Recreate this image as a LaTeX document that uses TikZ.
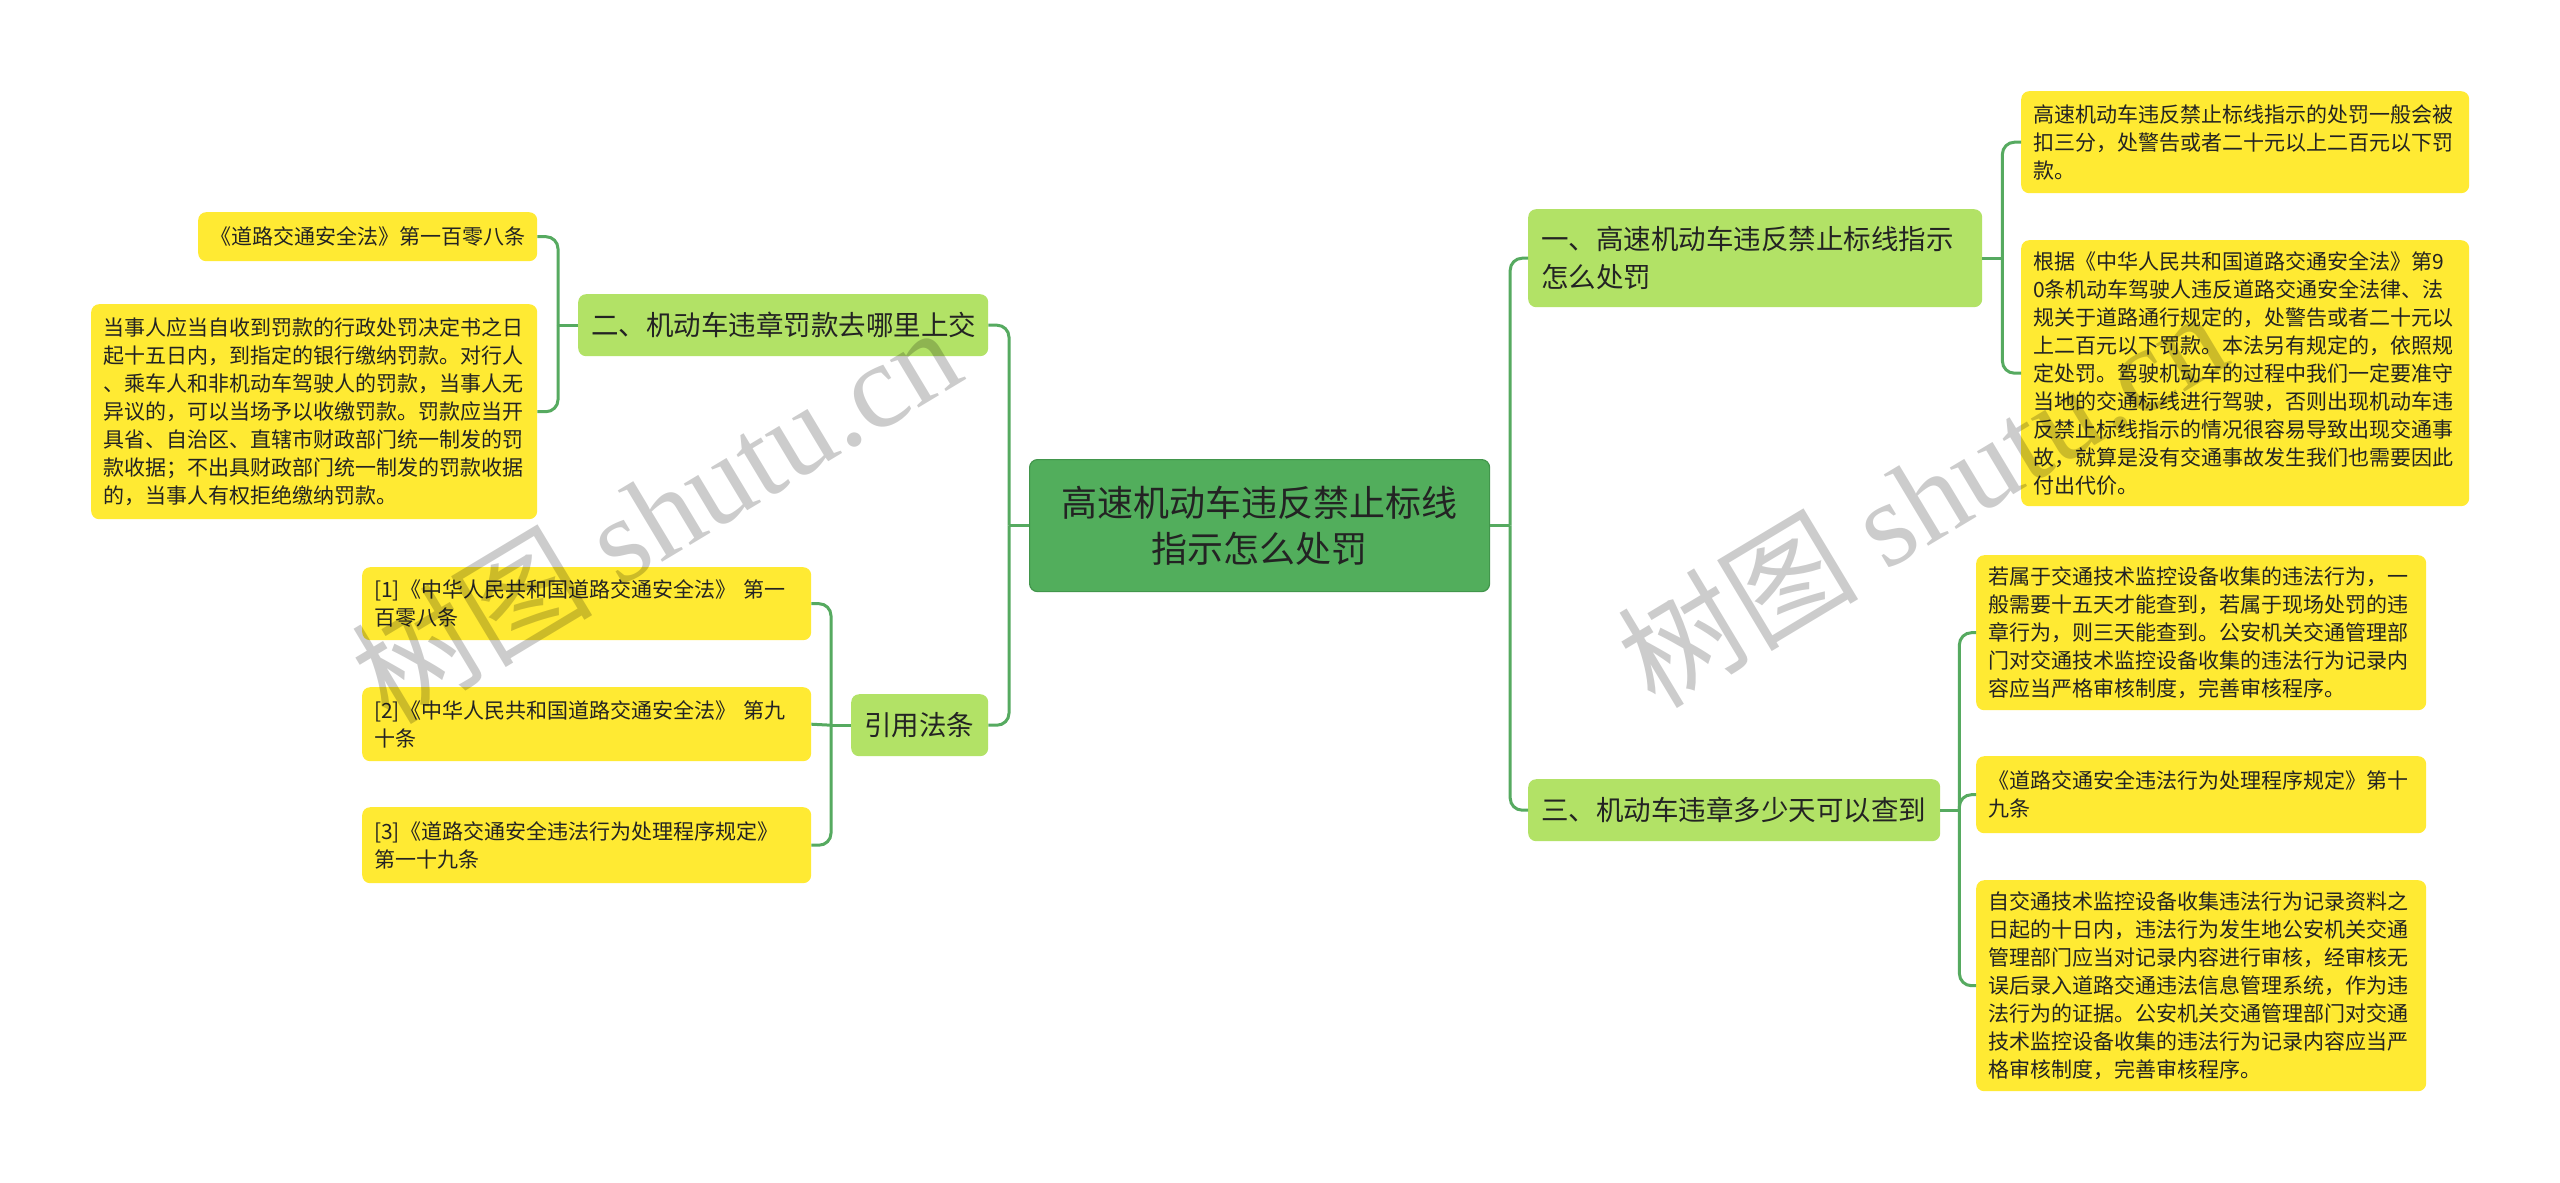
\documentclass[tikz,border=0pt]{standalone}
\usepackage{fontspec}
\setmainfont{Noto Sans CJK SC}
\newfontfamily\cjkfont{Noto Sans CJK SC}
\newfontfamily\wmlatin{Liberation Serif}
\definecolor{rootfill}{RGB}{82,174,92}
\definecolor{rootline}{RGB}{66,150,76}
\definecolor{branchfill}{RGB}{178,226,102}
\definecolor{leaffill}{RGB}{255,234,51}
\definecolor{conncol}{RGB}{86,170,96}
\definecolor{txt}{RGB}{35,35,35}
\tikzset{
  box/.style={rectangle, rounded corners=8pt, anchor=north west, inner ysep=3pt, text=txt},
  rootbox/.style={box, fill=rootfill, draw=rootline, line width=1.2pt, align=center,
    font=\fontsize{36}{46}\selectfont},
  branchbox/.style={box, fill=branchfill, align=left, inner xsep=13pt,
    font=\fontsize{27.5}{38}\selectfont},
  leafbox/.style={box, fill=leaffill, align=left, inner xsep=12pt,
    font=\fontsize{21}{28}\selectfont},
  conn/.style={draw=conncol, line width=3pt, rounded corners=12pt},
  wm/.style={text=black, text opacity=0.2, font=\fontsize{121}{130}\selectfont, inner sep=0pt}
}
\begin{document}
\begin{tikzpicture}[x=1pt,y=-1pt]
\useasboundingbox (0,0) rectangle (2560,1183);
\fill[white] (0,0) rectangle (2560,1183);

% root
\node[rootbox, minimum width=460pt, minimum height=132pt, text width=430pt] (root) at (1029,459)
  {高速机动车违反禁止标线\\指示怎么处罚};

% branches
\node[branchbox, minimum width=410pt, minimum height=62pt, text width=384pt] (b1) at (578,294)
  {二、机动车违章罚款去哪里上交};
\node[branchbox, minimum width=137pt, minimum height=62pt, text width=111pt] (b2) at (851,694)
  {引用法条};
\node[branchbox, minimum width=454pt, minimum height=98pt, text width=428pt] (b3) at (1528,209)
  {一、高速机动车违反禁止标线指示\\怎么处罚};
\node[branchbox, minimum width=412pt, minimum height=62pt, text width=386pt] (b4) at (1528,779)
  {三、机动车违章多少天可以查到};

% left leaves
\node[leafbox, minimum width=339pt, minimum height=49pt, text width=315pt] (l1a) at (198,212)
  {《道路交通安全法》第一百零八条};
\node[leafbox, minimum width=446pt, minimum height=215pt, text width=422pt] (l1b) at (91,304)
  {当事人应当自收到罚款的行政处罚决定书之日\\起十五日内，到指定的银行缴纳罚款。对行人\\、乘车人和非机动车驾驶人的罚款，当事人无\\异议的，可以当场予以收缴罚款。罚款应当开\\具省、自治区、直辖市财政部门统一制发的罚\\款收据；不出具财政部门统一制发的罚款收据\\的，当事人有权拒绝缴纳罚款。};
\node[leafbox, minimum width=449pt, minimum height=73pt, text width=425pt] (l2a) at (362,567)
  {[1]《中华人民共和国道路交通安全法》~第一\\百零八条};
\node[leafbox, minimum width=449pt, minimum height=74pt, text width=425pt] (l2b) at (362,687)
  {[2]《中华人民共和国道路交通安全法》~第九\\十条};
\node[leafbox, minimum width=449pt, minimum height=76pt, text width=425pt] (l2c) at (362,807)
  {[3]《道路交通安全违法行为处理程序规定》\\第一十九条};

% right leaves
\node[leafbox, minimum width=448pt, minimum height=102pt, text width=424pt] (r1a) at (2021,91)
  {高速机动车违反禁止标线指示的处罚一般会被\\扣三分，处警告或者二十元以上二百元以下罚\\款。};
\node[leafbox, minimum width=448pt, minimum height=266pt, text width=424pt] (r1b) at (2021,240)
  {根据《中华人民共和国道路交通安全法》第9\\0条机动车驾驶人违反道路交通安全法律、法\\规关于道路通行规定的，处警告或者二十元以\\上二百元以下罚款。本法另有规定的，依照规\\定处罚。驾驶机动车的过程中我们一定要准守\\当地的交通标线进行驾驶，否则出现机动车违\\反禁止标线指示的情况很容易导致出现交通事\\故，就算是没有交通事故发生我们也需要因此\\付出代价。};
\node[leafbox, minimum width=450pt, minimum height=155pt, text width=426pt] (r3a) at (1976,555)
  {若属于交通技术监控设备收集的违法行为，一\\般需要十五天才能查到，若属于现场处罚的违\\章行为，则三天能查到。公安机关交通管理部\\门对交通技术监控设备收集的违法行为记录内\\容应当严格审核制度，完善审核程序。};
\node[leafbox, minimum width=450pt, minimum height=77pt, text width=426pt] (r3b) at (1976,756)
  {《道路交通安全违法行为处理程序规定》第十\\九条};
\node[leafbox, minimum width=450pt, minimum height=211pt, text width=426pt] (r3c) at (1976,880)
  {自交通技术监控设备收集违法行为记录资料之\\日起的十日内，违法行为发生地公安机关交通\\管理部门应当对记录内容进行审核，经审核无\\误后录入道路交通违法信息管理系统，作为违\\法行为的证据。公安机关交通管理部门对交通\\技术监控设备收集的违法行为记录内容应当严\\格审核制度，完善审核程序。};

% connectors: root
\draw[conn] (root.west) -- ++(-20,0) coordinate (tl);
\draw[conn] (tl) |- (b1.east);
\draw[conn] (tl) |- (b2.east);
\draw[conn] (root.east) -- ++(20,0) coordinate (tr);
\draw[conn] (tr) |- (b3.west);
\draw[conn] (tr) |- (b4.west);
% b1
\draw[conn] (b1.west) -- ++(-20,0) coordinate (t1);
\draw[conn] (t1) |- (l1a.east);
\draw[conn] (t1) |- (l1b.east);
% b2
\draw[conn] (b2.west) -- ++(-20,0) coordinate (t2);
\draw[conn] (t2) |- (l2a.east);
\draw[conn] (t2) -- (l2b.east);
\draw[conn] (t2) |- (l2c.east);
% b3
\draw[conn] (b3.east) -- ++(20,0) coordinate (t3);
\draw[conn] (t3) |- (r1a.west);
\draw[conn] (t3) |- (r1b.west);
% b4
\draw[conn] (b4.east) -- ++(19,0) coordinate (t4);
\draw[conn] (t4) |- (r3a.west);
\draw[conn] (t4) |- (r3b.west);
\draw[conn] (t4) |- (r3c.west);

% watermarks
\node[wm, rotate=31] (wm1) at (655,513) {{\cjkfont 树图}~{\wmlatin shutu.cn}};
\node[wm, rotate=31] (wm2) at (1921,497) {{\cjkfont 树图}~{\wmlatin shutu.cn}};
\end{tikzpicture}
\end{document}
